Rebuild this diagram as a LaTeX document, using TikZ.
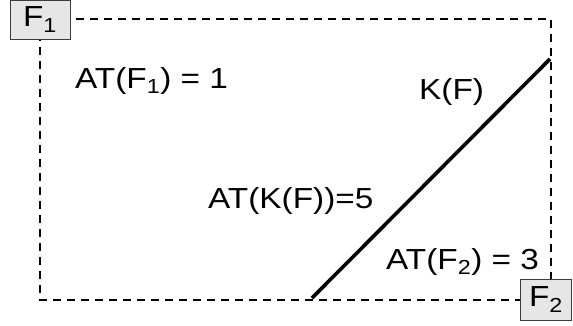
\documentclass[tikz,border=0pt]{standalone}
\usepackage{fontspec}
\setmainfont{Liberation Sans}[FakeStretch=1.15]
\definecolor{boxgray}{RGB}{230,230,230}
\definecolor{edgegray}{RGB}{60,60,60}
\usetikzlibrary{positioning}
\tikzstyle{flabel} = [draw=edgegray,fill=boxgray,line width=1pt,inner sep=0pt]
\tikzstyle{attext} = [anchor=base west,inner sep=0pt]
\tikzstyle{frame} = [dash pattern=on 8pt off 6pt,line width=1.2pt]

\begin{document}
\begin{tikzpicture}[x=1pt,y=-1pt,font=\fontsize{29}{34}\selectfont]
          \useasboundingbox (0,0) rectangle (573,325);
          \draw[frame] (40,19) rectangle (551,300);
          \node[flabel,minimum width=60pt,minimum height=39pt] (f1) at (40,19.5) {F\textsubscript{1}};
          \node[flabel,minimum width=51pt,minimum height=41pt] (f2) at (546,299.5) {F\textsubscript{2}};
          \coordinate (kstart) at (312,298);
          \coordinate (kend) at (550,59);
          \draw[line width=3.6pt] (kstart) -- (kend);
          \node[attext] (at1) at (75,88) {AT(F\textsubscript{1}) = 1};
          \node[attext] (kf) at (419,99) {K(F)};
          \node[attext] (atk) at (208,208) {AT(K(F))=5};
          \node[attext] (at2) at (386,269) {AT(F\textsubscript{2}) = 3};
        \end{tikzpicture}
\end{document}
